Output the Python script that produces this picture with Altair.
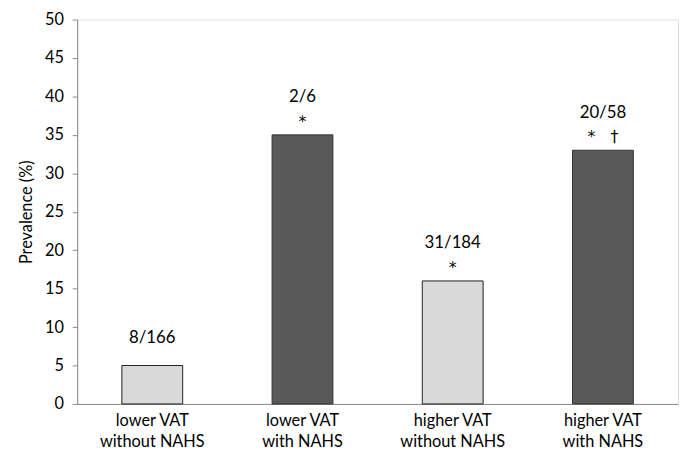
import altair as alt
import pandas as pd

categories = ["lower VAT\nwithout NAHS", "lower VAT\nwith NAHS", "higher VAT\nwithout NAHS", "higher VAT\nwith NAHS"]
values = [5, 35, 16, 33]
fractions = ["8/166", "2/6", "31/184", "20/58"]
marks = ["", "*", "*", "*\u00a0\u00a0\u00a0†"]
groups = ["without", "with", "without", "with"]

df = pd.DataFrame({"cat": categories, "val": values, "frac": fractions, "mark": marks, "grp": groups})

FONT = "Lato"

x = alt.X("cat:N", sort=categories, title=None,
          scale=alt.Scale(paddingInner=0.595, paddingOuter=0.2975),
          axis=alt.Axis(labelAngle=0, labelExpr="split(datum.label, '\\n')", labelFontSize=16.5,
                        labelFont=FONT, labelColor="#000", ticks=False, domainColor="#888",
                        labelPadding=9, labelLineHeight=21))
y = alt.Y("val:Q", title="Prevalence (%)",
          scale=alt.Scale(domain=[0, 50]),
          axis=alt.Axis(values=[0, 5, 10, 15, 20, 25, 30, 35, 40, 45, 50], labelOverlap=False, grid=False,
                        labelFontSize=16.5, labelFont=FONT,
                        labelColor="#000", titleFont=FONT, titleFontSize=16.5, titleFontWeight="normal",
                        titleColor="#000", domainColor="#888", tickColor="#888", tickSize=5,
                        titlePadding=10, labelPadding=9))

base = alt.Chart(df).encode(x=x, y=y)

bars = base.mark_bar(strokeWidth=1).encode(
    color=alt.Color("grp:N", scale=alt.Scale(domain=["without", "with"], range=["#d9d9d9", "#595959"]), legend=None),
    stroke=alt.Stroke("grp:N", scale=alt.Scale(domain=["without", "with"], range=["#222222", "#333333"]), legend=None),
)

star = base.transform_filter("datum.mark != ''").mark_text(
    font="DejaVu Sans", fontSize=16, dy=-13, baseline="middle", color="#000").encode(text="mark:N")

frac_star = base.transform_filter("datum.mark != ''").mark_text(
    font=FONT, fontSize=17, dy=-38, baseline="middle", color="#000").encode(text="frac:N")

frac_plain = base.transform_filter("datum.mark == ''").mark_text(
    font=FONT, fontSize=17, dy=-28, baseline="middle", color="#000").encode(text="frac:N")

chart = alt.layer(bars, star, frac_star, frac_plain).properties(
    width=608, height=389,
    autosize=alt.AutoSizeParams(type="none"),
    padding={"left": 70, "top": 9, "right": 2, "bottom": 51},
).configure_view(stroke=None).configure(background="white")

chart.save("out.html", embed_options={"renderer": "svg", "actions": False})
